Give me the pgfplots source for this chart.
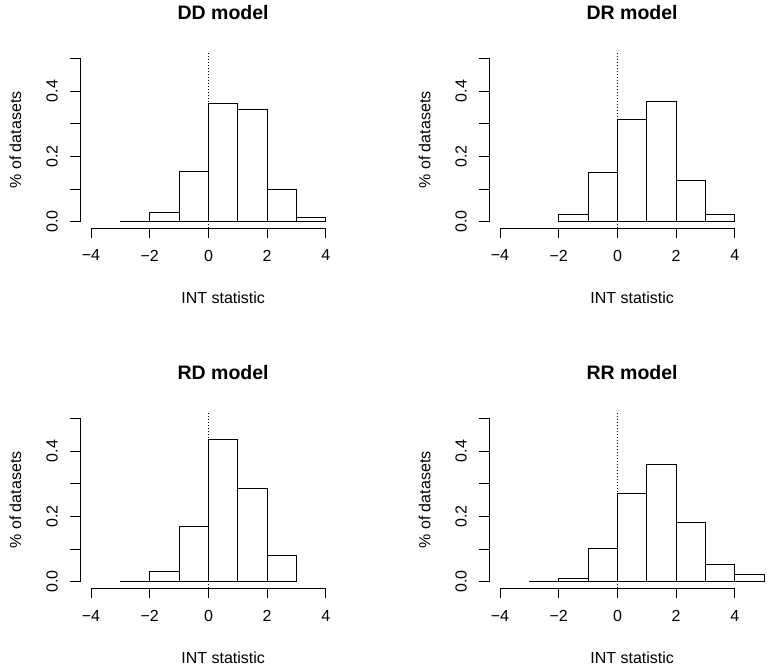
\documentclass[border=0pt]{standalone}
\usepackage{fontspec}
\setmainfont{Liberation Sans}
\usepackage{pgfplots}
\pgfplotsset{compat=1.18}
\pgfplotsset{
 rhist/.style={
  scale only axis, width=285.4pt, height=176.4pt,
  xmin=-4.36, xmax=5.36, ymin=-0.02, ymax=0.52,
  clip=false,
  axis lines=left,
  axis line style={-, line width=0.9pt},
  x axis line style={shorten <=10.57pt, shorten >=39.93pt},
  y axis line style={shorten <=6.54pt, shorten >=6.54pt},
  tick align=outside, major tick length=10pt,
  tick style={black, line width=0.9pt},
  xtick={-4,-2,0,2,4}, xticklabels={−4,−2,0,2,4},
  ytick={0,0.1,0.2,0.3,0.4,0.5}, yticklabels={0.0,,0.2,,0.4,},
  minor tick num=0,
  tick label style={font=\fontsize{16}{19}\selectfont},
  xticklabel style={anchor=center, yshift=-17.3pt},
  yticklabel style={xshift=-18.4pt, rotate=90, anchor=center},
  every axis x label/.style={at={(axis description cs:0.5,0)}, anchor=center, yshift=-69.6pt, font=\fontsize{16}{19}\selectfont},
  every axis y label/.style={at={(axis description cs:0,0.5)}, xshift=-64.9pt, anchor=center, rotate=90, font=\fontsize{16}{19}\selectfont},
  every axis title/.style={at={(axis description cs:0.5,1)}, anchor=center, yshift=39.6pt, font=\fontsize{19.5}{23}\selectfont\bfseries},
  xlabel={INT statistic}, ylabel={\% of datasets},
 },
 hbar/.style={ybar interval, fill=white, draw=black, line width=0.9pt},
 zline/.style={black, line width=0.9pt, dash pattern=on 1pt off 2pt},
}
\begin{document}
\begin{tikzpicture}
\path[use as bounding box] (0,0) rectangle (770pt,669pt);
% DD
\begin{axis}[rhist, at={(80.43pt,440.8pt)}, anchor=south west, title={DD model}]
\addplot[hbar] coordinates {(-3,0.002) (-2,0.0276) (-1,0.153) (0,0.362) (1,0.344) (2,0.098) (3,0.012) (4,0)};
\addplot[zline] coordinates {(0,-0.02) (0,0.52)};
\end{axis}
% DR
\begin{axis}[rhist, at={(489.43pt,440.8pt)}, anchor=south west, title={DR model}]
\addplot[hbar] coordinates {(-2,0.022) (-1,0.151) (0,0.313) (1,0.367) (2,0.127) (3,0.022) (4,0)};
\addplot[zline] coordinates {(0,-0.02) (0,0.52)};
\end{axis}
% RD
\begin{axis}[rhist, at={(80.43pt,80.8pt)}, anchor=south west, title={RD model}]
\addplot[hbar] coordinates {(-3,0.002) (-2,0.031) (-1,0.168) (0,0.434) (1,0.286) (2,0.080) (3,0)};
\addplot[zline] coordinates {(0,-0.02) (0,0.52)};
\end{axis}
% RR
\begin{axis}[rhist, at={(489.43pt,80.8pt)}, anchor=south west, title={RR model}]
\addplot[hbar] coordinates {(-3,0.002) (-2,0.009) (-1,0.101) (0,0.269) (1,0.358) (2,0.181) (3,0.054) (4,0.023) (5,0)};
\addplot[zline] coordinates {(0,-0.02) (0,0.52)};
\end{axis}
\end{tikzpicture}
\end{document}
